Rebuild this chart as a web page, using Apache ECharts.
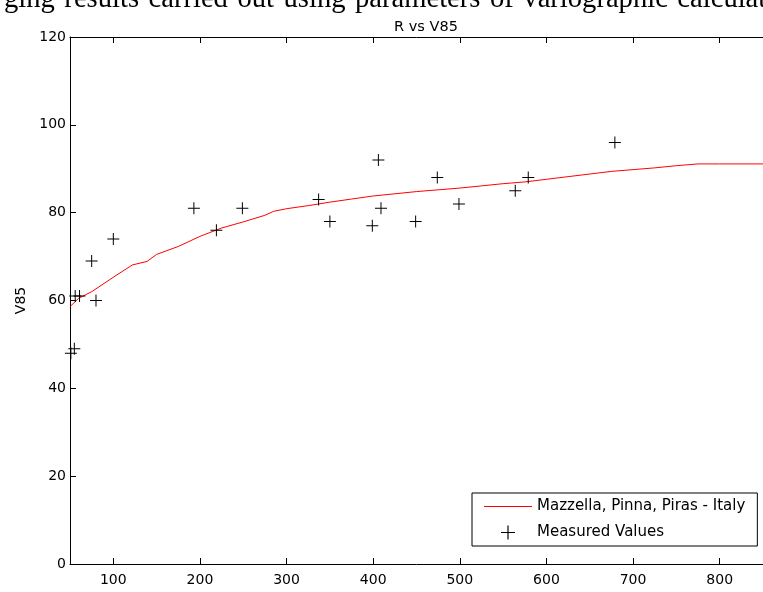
<!DOCTYPE html>
<html>
<head>
<meta charset="utf-8">
<script src="https://cdn.jsdelivr.net/npm/echarts@6/dist/echarts.min.js"></script>
<style>
html,body{margin:0;padding:0;background:#fff;}
#chart{width:763px;height:592px;}
</style>
</head>
<body>
<div id="chart"></div>
<script>
// Model curve (R, V85)
var curveR   = [50, 60, 75, 100, 122, 139, 150, 175, 200, 225, 250, 275, 285, 300, 325, 350, 375, 400, 425, 450, 475, 500, 525, 550, 575, 600, 625, 650, 675, 700, 725, 750, 775, 800, 850];
var curveV   = [58.6, 60.5, 62.0, 65.3, 68.1, 68.9, 70.5, 72.3, 74.6, 76.5, 77.9, 79.4, 80.3, 80.9, 81.6, 82.4, 83.1, 83.8, 84.3, 84.8, 85.2, 85.6, 86.1, 86.6, 87.0, 87.6, 88.2, 88.8, 89.4, 89.8, 90.2, 90.7, 91.1, 91.1, 91.1];
// Measured values
var measR    = [51, 55, 56, 61, 75, 80, 100, 193, 219, 249, 337, 350, 399, 406, 409, 449, 474, 499, 564, 579, 679];
var measV    = [48, 49, 61, 61, 69, 60, 74, 81, 76, 81, 83, 78, 77, 92, 81, 78, 88, 82, 85, 88, 96];
var xTicks   = [100, 200, 300, 400, 500, 600, 700, 800];
var seriesNames = ['Mazzella, Pinna, Piras - Italy', 'Measured Values'];
var headerWords = ['ging', 'results', 'carried', 'out', 'using', 'parameters', 'of', 'variographic', 'calculat'];
var chartTitle = 'R vs V85';

var curveData = curveR.map(function (r, i) { return [r, curveV[i]]; });
var measData = measR.map(function (r, i) { return [r, measV[i]]; });
// justified caption: normal space plus a hair space
var headerText = headerWords.join(' \u200A');

var FONT = 'DejaVu Sans';
var plus = 'path://M0,5.5H12V6.5H0Z M5.5,0H6.5V12H5.5Z';
var lineIcon = 'path://M0,0H0.01V0.01H0Z M0,6.5H48V7.5H0Z M47.99,13.99H48V14H47.99Z';

var chart = echarts.init(document.getElementById('chart'), null, {renderer: 'canvas'});
chart.setOption({
  animation: false,
  backgroundColor: '#fff',
  title: [
    {
      text: headerText, left: -1, top: -20,
      textStyle: {fontFamily: 'Liberation Serif', fontSize: 28.6, fontWeight: 'normal', color: '#000'}
    },
    {
      text: chartTitle, left: 421, top: 15, textAlign: 'center',
      textStyle: {fontFamily: FONT, fontSize: 14.5, fontWeight: 'normal', color: '#000'}
    }
  ],
  grid: {left: 70, top: 37, width: 703, height: 527, containLabel: false},
  xAxis: [
    {
      type: 'value', min: 50, max: 850, position: 'bottom',
      axisLine: {show: true, lineStyle: {color: '#000', width: 1}},
      axisTick: {show: true, inside: true, length: 6, lineStyle: {color: '#000'}, customValues: xTicks},
      axisLabel: {show: true, color: '#000', fontFamily: FONT, fontSize: 14, margin: 9, customValues: xTicks},
      splitLine: {show: false}
    },
    {
      type: 'value', min: 50, max: 850, position: 'top',
      axisLine: {show: true, lineStyle: {color: '#000', width: 1}},
      axisTick: {show: true, inside: true, length: 6, lineStyle: {color: '#000'}, customValues: xTicks},
      axisLabel: {show: false},
      splitLine: {show: false}
    }
  ],
  yAxis: [
    {
      type: 'value', min: 0, max: 120, interval: 20, position: 'left',
      name: 'V85', nameLocation: 'middle', nameGap: 42, nameRotate: 90,
      nameTextStyle: {fontFamily: FONT, fontSize: 14, color: '#000'},
      axisLine: {show: true, lineStyle: {color: '#000', width: 1}},
      axisTick: {show: true, inside: true, length: 6, lineStyle: {color: '#000'}},
      axisLabel: {show: true, color: '#000', fontFamily: FONT, fontSize: 14, margin: 4},
      splitLine: {show: false}
    }
  ],
  legend: {
    orient: 'vertical', left: 472, top: 493,
    backgroundColor: '#fff', borderColor: '#000', borderWidth: 1, borderRadius: 0,
    padding: [6, 12, 6, 12], itemGap: 11, itemWidth: 48, itemHeight: 14,
    textStyle: {fontFamily: FONT, fontSize: 15, color: '#000'},
    data: [
      {name: seriesNames[0], icon: lineIcon, itemStyle: {color: '#ff0000'}},
      {name: seriesNames[1], icon: plus, itemStyle: {color: '#000'}}
    ]
  },
  series: [
    {
      name: seriesNames[0], type: 'line', data: curveData,
      showSymbol: false, symbol: 'none', smooth: false,
      lineStyle: {color: '#ff0000', width: 1}, itemStyle: {color: '#ff0000'},
      z: 2
    },
    {
      name: seriesNames[1], type: 'scatter', data: measData,
      symbol: plus, symbolSize: 12,
      itemStyle: {color: '#000', opacity: 1},
      z: 3
    }
  ]
});
</script>
</body>
</html>
